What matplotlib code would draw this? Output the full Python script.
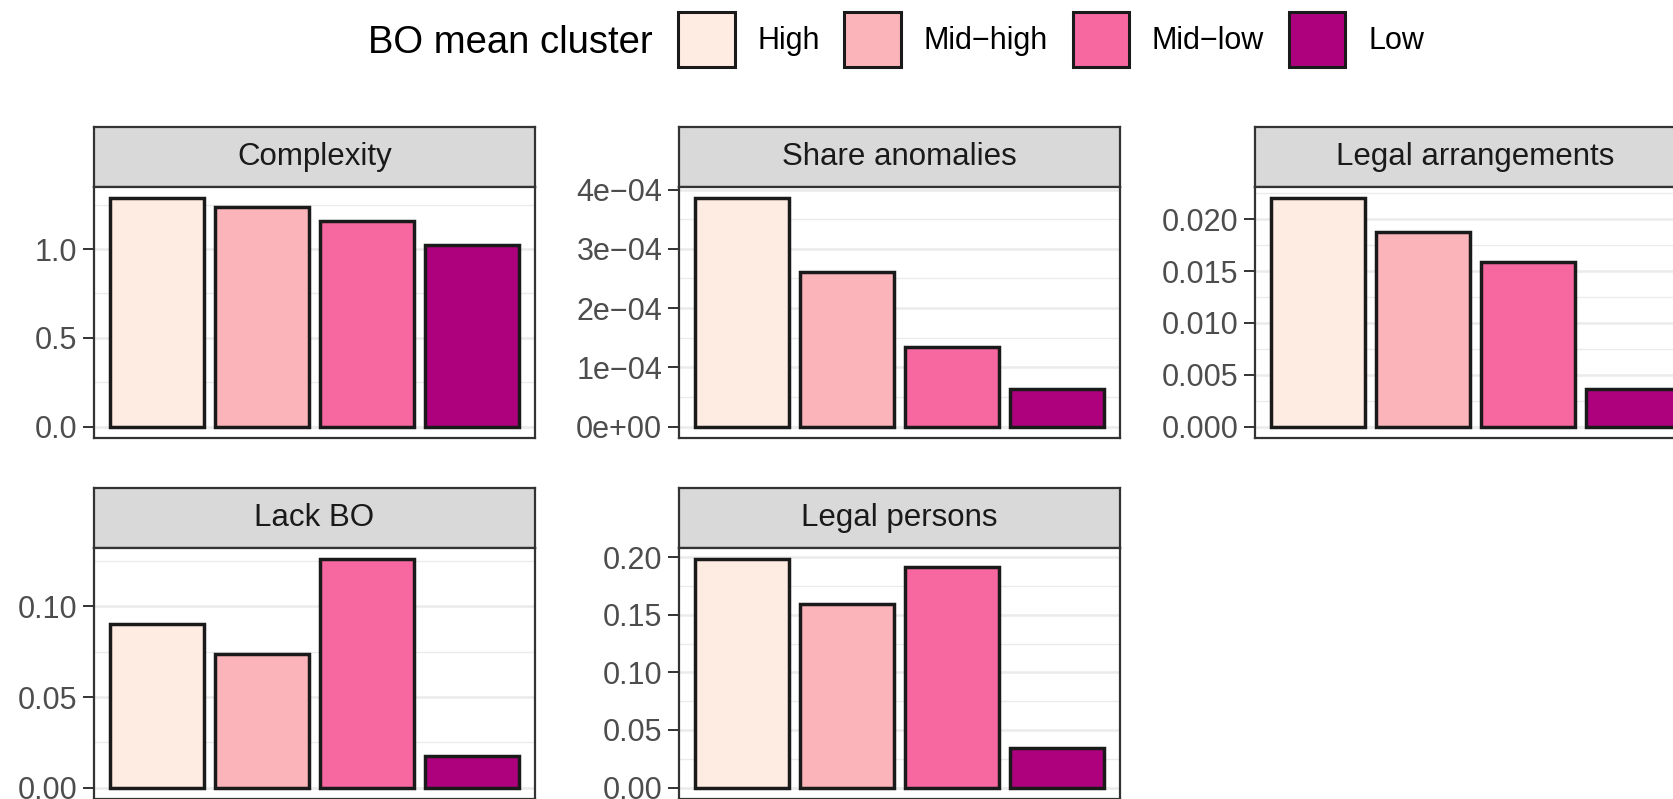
import matplotlib.pyplot as plt
import numpy as np
from matplotlib.patches import Patch
from matplotlib.ticker import MultipleLocator, FuncFormatter

plt.rcParams['font.family'] = ['Liberation Sans', 'DejaVu Sans']

# data
clusters = ['High', 'Mid\u2212high', 'Mid\u2212low', 'Low']
cluster_colors = ['#FEEBE2', '#FBB4B9', '#F768A1', '#AE017E']

panel_titles = ['Complexity', 'Share anomalies', 'Legal arrangements',
                'Lack BO', 'Legal persons']
complexity = [1.285, 1.235, 1.160, 1.025]
share_anomalies = [3.85e-4, 2.60e-4, 1.35e-4, 0.63e-4]
legal_arrangements = [0.0220, 0.0188, 0.0159, 0.0036]
lack_bo = [0.0905, 0.0740, 0.1260, 0.0172]
legal_persons = [0.198, 0.159, 0.191, 0.034]
panel_values = [complexity, share_anomalies, legal_arrangements, lack_bo, legal_persons]

tick_steps = [0.5, 1e-4, 0.005, 0.05, 0.05]
tick_formats = ['{:.1f}', 'sci', '{:.3f}', '{:.2f}', '{:.2f}']

# layout in pixels (figure 1674 x 799)
W, H = 1674, 799
panel_w = 441
col_left = [94, 679, 1255]
row_strip_top = [127, 488]
strip_h = 60
plot_h = 251


def px_rect(left, top, width, height):
    return [left / W, (H - top - height) / H, width / W, height / H]


def make_formatter(fmt):
    if fmt == 'sci':
        return FuncFormatter(lambda v, p: '{:.0e}'.format(v).replace('-', '\u2212'))
    return FuncFormatter(lambda v, p: fmt.format(v))


fig = plt.figure(figsize=(W / 100, H / 100), dpi=100)

x = np.arange(1, len(clusters) + 1)
for i, (title, vals) in enumerate(zip(panel_titles, panel_values)):
    row, col = divmod(i, 3)
    left = col_left[col]
    top = row_strip_top[row]

    # strip
    sax = fig.add_axes(px_rect(left, top, panel_w, strip_h))
    sax.set_facecolor('#D9D9D9')
    sax.set_xticks([])
    sax.set_yticks([])
    for s in sax.spines.values():
        s.set_color('#333333')
        s.set_linewidth(1.6)
    sax.text(0.5, 0.5, title, transform=sax.transAxes, ha='center', va='center',
             fontsize=22.5, color='#1A1A1A')

    # panel
    ax = fig.add_axes(px_rect(left, top + strip_h, panel_w, plot_h))
    ax.bar(x, vals, width=0.9, color=cluster_colors, edgecolor='#1A1A1A',
           linewidth=2.5, zorder=3)
    vmax = max(vals)
    ax.set_xlim(0.4, 4.6)
    ax.set_ylim(-0.05 * vmax, 1.05 * vmax)
    ax.set_xticks([])
    ax.yaxis.set_major_locator(MultipleLocator(tick_steps[i]))
    ax.yaxis.set_minor_locator(MultipleLocator(tick_steps[i] / 2))
    ax.yaxis.set_major_formatter(make_formatter(tick_formats[i]))
    ax.grid(which='major', axis='y', color='#EBEBEB', linewidth=1.8, zorder=0)
    ax.grid(which='minor', axis='y', color='#EBEBEB', linewidth=1.0, zorder=0)
    ax.set_axisbelow(True)
    ax.tick_params(axis='y', which='major', length=8, width=1.4, color='#333333',
                   labelcolor='#4D4D4D', labelsize=22, pad=4)
    ax.tick_params(axis='y', which='minor', length=0)
    for s in ax.spines.values():
        s.set_color('#333333')
        s.set_linewidth(1.6)

# legend
fig.text(653 / W, (H - 53) / H, 'BO mean cluster', ha='right', va='baseline',
         fontsize=27.5, color='black')
handles = [Patch(facecolor=c, edgecolor='#1A1A1A', linewidth=2.2) for c in cluster_colors]
fig.legend(handles, clusters, loc='upper left', bbox_to_anchor=(678 / W, (H - 12) / H),
           ncol=4, frameon=False, fontsize=22, handlelength=1.85, handleheight=2.39,
           handletextpad=0.75, columnspacing=0.8, borderpad=0, borderaxespad=0)

fig.savefig('out.png', dpi=100)
